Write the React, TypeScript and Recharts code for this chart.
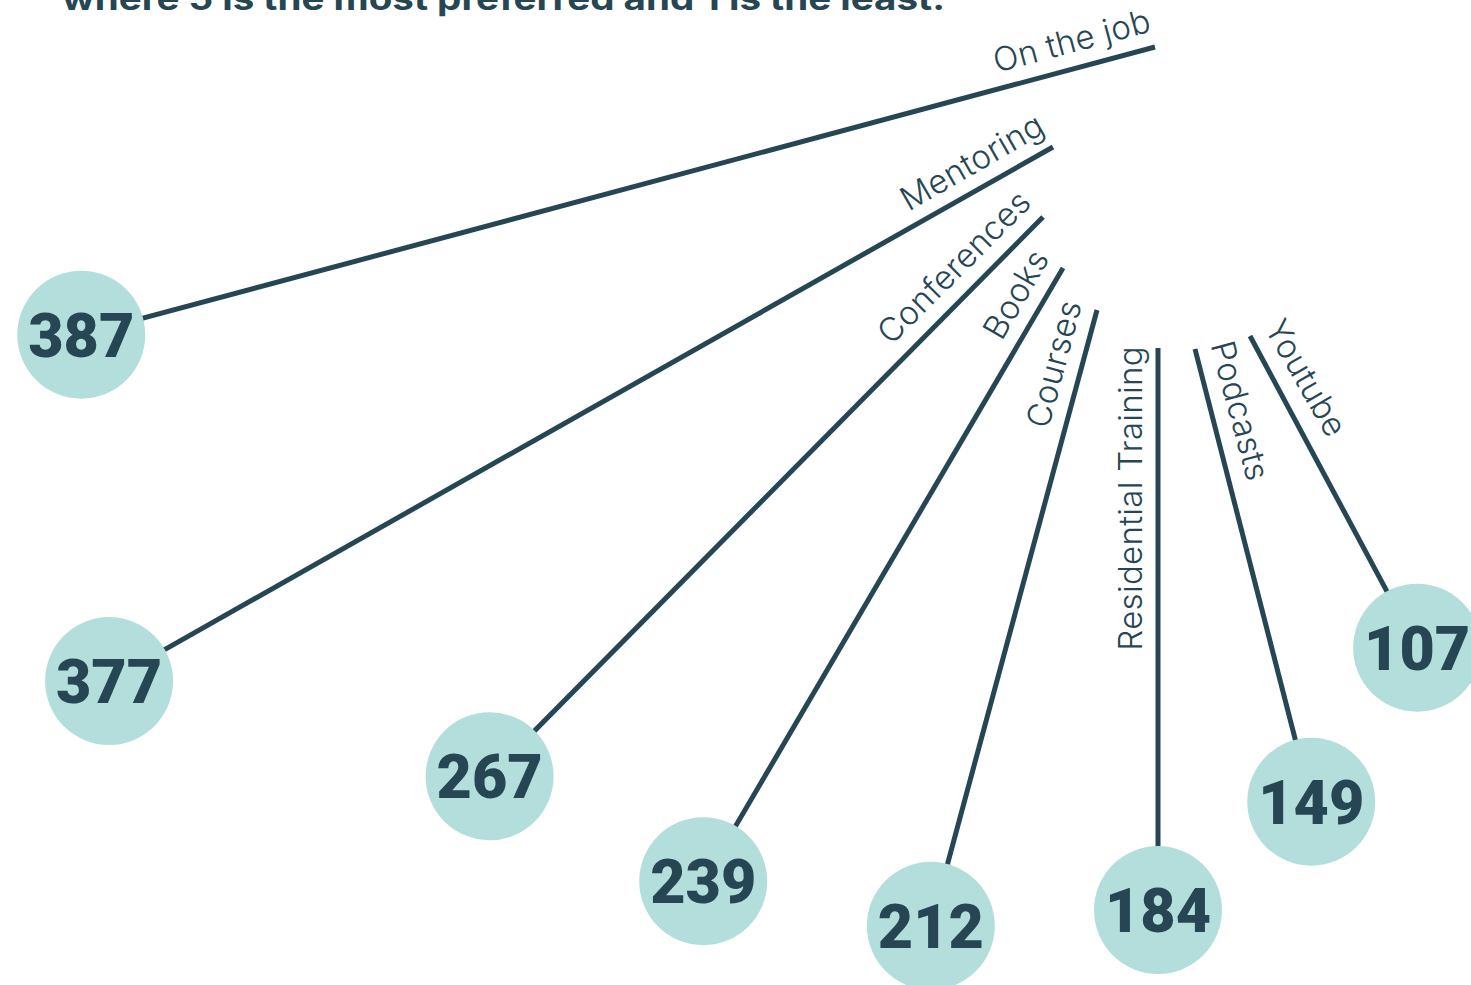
import { ScatterChart, Scatter, XAxis, YAxis } from 'recharts';

// preferred ways of learning, total score
const categories = [
  'On the job',
  'Mentoring',
  'Conferences',
  'Books',
  'Courses',
  'Residential Training',
  'Podcasts',
  'Youtube',
];
const values = [387, 377, 267, 239, 212, 184, 149, 107];

// where each stem leaves the fan, in plot units (1 unit = 1px)
const stemStarts: [number, number][] = [
  [1155, 47],
  [1053, 147],
  [1043, 217],
  [1063, 268],
  [1097, 310],
  [1158, 348],
  [1195, 349],
  [1250, 336],
];
// stem direction, degrees left of straight down
const stemAngles = [75, 60.5, 44.7, 30.4, 15.1, 0, -14.4, -28.2];

const W = 1471;
const H = 985;
const UNIT = 2.707; // stem length per point of score
const BUBBLE_R = 64;
const INK = '#264653';
const BUBBLE = '#b4dedc';

const series = categories.map((name, i) => {
  const a = (stemAngles[i] * Math.PI) / 180;
  const [sx, sy] = stemStarts[i];
  const len = BUBBLE_R + UNIT * values[i];
  return {
    name,
    data: [
      { x: sx, y: sy, role: 'start', name, angle: Math.round(stemAngles[i] / 15) * 15 },
      {
        x: sx - Math.sin(a) * len,
        y: sy + Math.cos(a) * len,
        role: 'end',
        value: values[i],
      },
    ],
  };
});

function StemPoint(props: any) {
  const { cx, cy, payload } = props;
  if (cx == null || cy == null) return <g />;

  if (payload.role === 'end') {
    return (
      <g>
        <circle cx={cx} cy={cy} r={BUBBLE_R} fill={BUBBLE} />
        <text
          x={cx}
          y={cy + 22}
          textAnchor="middle"
          fill={INK}
          fontFamily="Roboto, 'Liberation Sans', sans-serif"
          fontWeight={900}
          fontSize={61}
        >
          {payload.value}
        </text>
      </g>
    );
  }

  // label runs along the stem, on its outer side
  const left = payload.angle >= 0;
  const rot = left ? payload.angle - 90 : payload.angle + 90;
  const r = (rot * Math.PI) / 180;
  const tx = Math.cos(r);
  const ty = Math.sin(r);
  const ux = Math.sin(r);
  const uy = -Math.cos(r);
  const off = 16;
  const along = left ? 2 : 0;
  const x = cx + ux * off + tx * along;
  const y = cy + uy * off + ty * along;
  return (
    <text
      x={x}
      y={y}
      transform={`rotate(${rot} ${x} ${y})`}
      textAnchor={left ? 'end' : 'start'}
      fill={INK}
      fontFamily="Inter, 'Open Sans', sans-serif"
      fontWeight={300}
      fontSize={33}
      letterSpacing={0.3}
    >
      {payload.name}
    </text>
  );
}

export default function App() {
  return (
    <div style={{ position: 'absolute', left: 0, top: 0, width: W, height: H, background: '#fff' }}>
      <svg width={W} height={40} style={{ position: 'absolute', left: 0, top: 0 }}>
        <text
          x={62}
          y={10}
          fill={INK}
          fontFamily="Inter, sans-serif"
          fontWeight={700}
          fontSize={32}
          textLength={883}
          lengthAdjust="spacingAndGlyphs"
        >
          where 5 is the most preferred and 1 is the least.
        </text>
      </svg>
      <ScatterChart
        width={W}
        height={H}
        margin={{ top: 0, right: 0, bottom: 0, left: 0 }}
        style={{ position: 'absolute', left: 0, top: 0 }}
      >
        <XAxis type="number" dataKey="x" domain={[0, W]} hide />
        <YAxis type="number" dataKey="y" domain={[0, H]} reversed hide />
        {series.map((s) => (
          <Scatter
            key={s.name}
            name={s.name}
            data={s.data}
            line={{ stroke: INK, strokeWidth: 5 }}
            shape={StemPoint}
            isAnimationActive={false}
          />
        ))}
      </ScatterChart>
    </div>
  );
}
